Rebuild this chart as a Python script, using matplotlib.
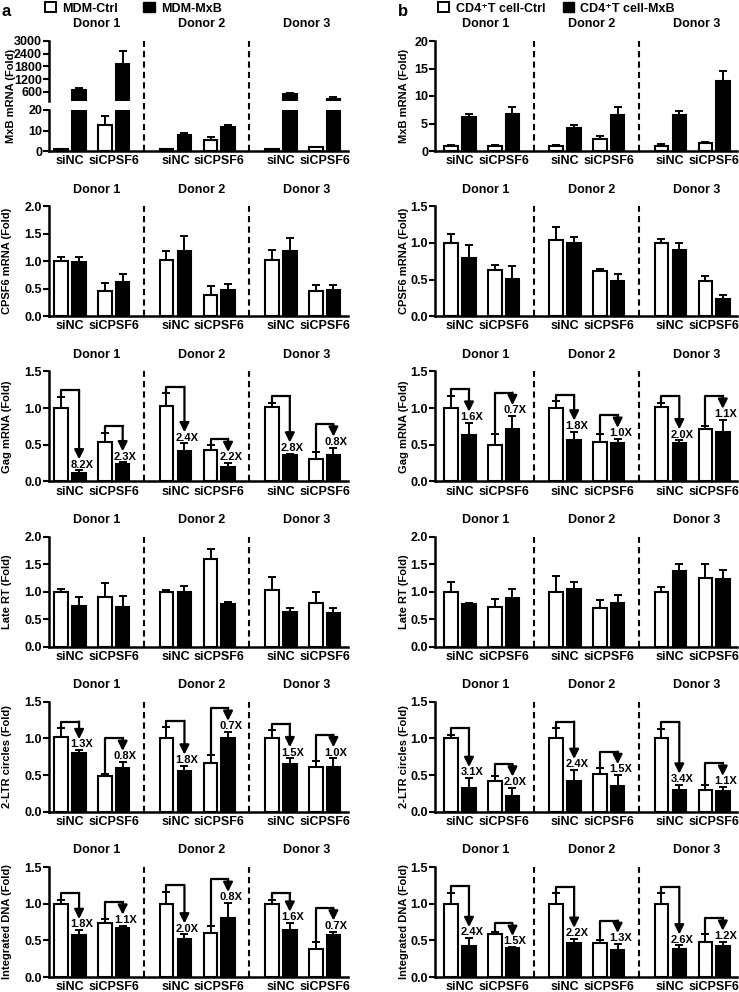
import matplotlib.pyplot as plt
from matplotlib.patches import Patch
import numpy as np

plt.rcParams['font.family'] = ['Liberation Sans', 'DejaVu Sans']
plt.rcParams['font.weight'] = 'bold'
plt.rcParams['axes.labelweight'] = 'bold'

donors = ['Donor 1', 'Donor 2', 'Donor 3']
groups = ['siNC', 'siCPSF6']

# order inside each donor: Ctrl-siNC, MxB-siNC, Ctrl-siCPSF6, MxB-siCPSF6
# panel a: MDM
a_mxb = [1.0, 690, 12.5, 1900, 1.0, 8.0, 5.5, 11.5, 1.0, 480, 1.8, 280]
a_mxb_err = [0.2, 90, 4.5, 620, 0.2, 0.7, 1.2, 1.2, 0.1, 50, 0.3, 80]
a_cpsf6 = [1.0, 0.98, 0.45, 0.63, 1.02, 1.18, 0.38, 0.47, 1.02, 1.18, 0.46, 0.48]
a_cpsf6_err = [0.08, 0.1, 0.15, 0.14, 0.16, 0.27, 0.17, 0.12, 0.18, 0.24, 0.1, 0.08]
a_gag = [1.0, 0.12, 0.54, 0.24, 1.03, 0.42, 0.43, 0.19, 1.02, 0.36, 0.3, 0.36]
a_gag_err = [0.15, 0.03, 0.12, 0.02, 0.17, 0.1, 0.06, 0.06, 0.05, 0.02, 0.1, 0.1]
a_gag_fold = ['8.2X', '2.3X', '2.4X', '2.2X', '2.8X', '0.8X']
a_rt = [1.0, 0.74, 0.91, 0.72, 1.0, 0.99, 1.6, 0.77, 1.03, 0.62, 0.8, 0.61]
a_rt_err = [0.04, 0.17, 0.24, 0.2, 0.03, 0.11, 0.17, 0.04, 0.24, 0.08, 0.19, 0.09]
a_ltr = [1.02, 0.8, 0.49, 0.6, 1.01, 0.56, 0.66, 1.0, 1.01, 0.65, 0.61, 0.61]
a_ltr_err = [0.12, 0.04, 0.02, 0.08, 0.14, 0.07, 0.12, 0.09, 0.1, 0.08, 0.08, 0.12]
a_ltr_fold = ['1.3X', '0.8X', '1.8X', '0.7X', '1.5X', '1.0X']
a_int = [1.0, 0.57, 0.73, 0.67, 1.0, 0.52, 0.6, 0.81, 1.0, 0.64, 0.38, 0.57]
a_int_err = [0.05, 0.07, 0.06, 0.03, 0.16, 0.06, 0.1, 0.2, 0.05, 0.1, 0.1, 0.05]
a_int_fold = ['1.8X', '1.1X', '2.0X', '0.8X', '1.6X', '0.7X']

# panel b: CD4+ T cells
b_mxb = [1.0, 6.1, 1.0, 6.8, 1.0, 4.1, 2.1, 6.6, 1.0, 6.6, 1.4, 12.7]
b_mxb_err = [0.15, 0.6, 0.05, 1.2, 0.15, 0.7, 0.7, 1.4, 0.2, 0.6, 0.25, 1.8]
b_cpsf6 = [1.0, 0.8, 0.63, 0.51, 1.04, 1.0, 0.62, 0.48, 1.0, 0.9, 0.48, 0.24]
b_cpsf6_err = [0.12, 0.17, 0.07, 0.17, 0.18, 0.08, 0.03, 0.09, 0.05, 0.1, 0.07, 0.05]
b_gag = [1.0, 0.63, 0.5, 0.72, 1.0, 0.57, 0.54, 0.52, 1.01, 0.52, 0.72, 0.67]
b_gag_err = [0.17, 0.17, 0.14, 0.17, 0.09, 0.11, 0.1, 0.06, 0.06, 0.04, 0.04, 0.17]
b_gag_fold = ['1.6X', '0.7X', '1.8X', '1.0X', '2.0X', '1.1X']
b_rt = [1.0, 0.78, 0.72, 0.89, 1.0, 1.05, 0.7, 0.79, 1.0, 1.37, 1.25, 1.23]
b_rt_err = [0.17, 0.02, 0.15, 0.15, 0.28, 0.12, 0.14, 0.14, 0.08, 0.14, 0.25, 0.17]
b_ltr = [1.0, 0.33, 0.42, 0.22, 1.0, 0.42, 0.51, 0.35, 1.0, 0.3, 0.3, 0.29]
b_ltr_err = [0.05, 0.13, 0.07, 0.11, 0.14, 0.15, 0.09, 0.15, 0.13, 0.07, 0.06, 0.05]
b_ltr_fold = ['3.1X', '2.0X', '2.4X', '1.5X', '3.4X', '1.1X']
b_int = [1.0, 0.42, 0.58, 0.4, 1.0, 0.46, 0.47, 0.37, 1.0, 0.38, 0.48, 0.42]
b_int_err = [0.15, 0.11, 0.04, 0.01, 0.14, 0.06, 0.03, 0.08, 0.14, 0.05, 0.1, 0.06]
b_int_fold = ['2.4X', '1.5X', '2.2X', '1.3X', '2.6X', '1.2X']

W, H = 739, 992
fig = plt.figure(figsize=(W / 100, H / 100), dpi=100)


def rect(left, top, width, height):
    return [left / W, 1 - (top + height) / H, width / W, height / H]


def bar_x(off):
    x = []
    for d in range(3):
        base = off + d * 5.85
        x += [base, base + 1, base + 2.45, base + 3.42]
    return np.array(x)


def style(ax, xmax, bottom=True):
    ax.spines['top'].set_visible(False)
    ax.spines['right'].set_visible(False)
    ax.spines['left'].set_linewidth(1.8)
    ax.spines['bottom'].set_linewidth(1.8)
    if not bottom:
        ax.spines['bottom'].set_visible(False)
    ax.set_xlim(0, xmax)
    ax.tick_params(axis='y', length=4, width=1.5, labelsize=9, pad=1)
    ax.tick_params(axis='x', length=0, labelsize=9, pad=3)


def bars(ax, x, vals, errs):
    colors = ['white', 'black'] * 6
    ax.bar(x, vals, width=0.75, color=colors, edgecolor='black', linewidth=1.5, zorder=2)
    ax.errorbar(x, vals, yerr=[np.zeros(12), errs], fmt='none', ecolor='black',
                elinewidth=1.4, capsize=3, capthick=1.4, zorder=3)


def xlabels(ax, off):
    ticks = []
    for d in range(3):
        base = off + d * 5.85
        ticks += [base + 0.5, base + 2.93]
    ax.set_xticks(ticks)
    ax.set_xticklabels(groups * 3)


def dividers(ax, off, ymax=1.0):
    for d in range(2):
        ax.axvline(off + d * 5.85 + 4.6, ymin=0, ymax=ymax, color='black', lw=1.5,
                   ls=(0, (3, 2)), clip_on=False, zorder=1)


def titles(ax, off):
    for d in range(3):
        ax.annotate(donors[d], xy=(off + d * 5.85 + 1.95, 1), xycoords=('data', 'axes fraction'),
                    xytext=(0, 12), textcoords='offset points', ha='center', va='center',
                    fontsize=9)


def arrows(ax, x, vals, errs, folds):
    for k in range(6):
        i, j = 2 * k, 2 * k + 1
        ctop = vals[i] + errs[i]
        mtop = vals[j] + errs[j]
        ly = mtop + 0.01
        tip = ly + 0.14
        yb = max(ctop + 0.09, tip + 0.17)
        ax.plot([x[i], x[i], x[j]], [ctop, yb, yb], color='black', lw=1.6,
                solid_capstyle='projecting', zorder=4)
        ax.annotate('', xy=(x[j], tip), xytext=(x[j], yb),
                    arrowprops=dict(arrowstyle='-|>', color='black', lw=1.6,
                                    mutation_scale=14, shrinkA=0, shrinkB=0), zorder=4)
        ax.text(x[j] + 0.15, ly, folds[k], ha='center', va='bottom', fontsize=8, zorder=5)


def row(left, width, off, xmax, i, vals, errs, ymax, step, ylabel, lab_x, folds=None):
    top = 41 + 165.2 * i
    ax = fig.add_axes(rect(left, top, width, 110))
    style(ax, xmax)
    x = bar_x(off)
    bars(ax, x, vals, errs)
    ax.set_ylim(0, ymax)
    ax.set_yticks(np.arange(0, ymax + step / 2, step))
    if step < 1:
        ax.set_yticklabels(['%.1f' % t for t in np.arange(0, ymax + step / 2, step)])
    ax.set_ylabel(ylabel, fontsize=8)
    ax.yaxis.set_label_coords(lab_x, 0.5)
    xlabels(ax, off)
    dividers(ax, off)
    titles(ax, off)
    if folds:
        arrows(ax, x, vals, errs, folds)
    return ax


# ---------- panel a ----------
aL, aW, aoff, axmax = 49, 299, 0.67, 16.6
xa = bar_x(aoff)
# broken axis for MxB mRNA
up = fig.add_axes(rect(aL, 41, aW, 60))
style(up, axmax, bottom=False)
bars(up, xa, a_mxb, a_mxb_err)
up.set_ylim(170, 3000)
up.set_yticks([600, 1200, 1800, 2400, 3000])
up.set_xticks([])
titles(up, aoff)
lo = fig.add_axes(rect(aL, 110, aW, 41))
style(lo, axmax)
bars(lo, xa, a_mxb, a_mxb_err)
lo.set_ylim(0, 20)
lo.set_yticks([0, 10, 20])
xlabels(lo, aoff)
dividers(lo, aoff, ymax=110 / 41)
fig.text(11 / W, 1 - 96 / H, 'MxB mRNA (Fold)', rotation=90, ha='center', va='center', fontsize=8)

lab_a = -37 / aW
row(aL, aW, aoff, axmax, 1, a_cpsf6, a_cpsf6_err, 2.0, 0.5, 'CPSF6 mRNA (Fold)', lab_a)
row(aL, aW, aoff, axmax, 2, a_gag, a_gag_err, 1.5, 0.5, 'Gag mRNA (Fold)', lab_a, a_gag_fold)
row(aL, aW, aoff, axmax, 3, a_rt, a_rt_err, 2.0, 0.5, 'Late RT (Fold)', lab_a)
row(aL, aW, aoff, axmax, 4, a_ltr, a_ltr_err, 1.5, 0.5, '2-LTR circles (Fold)', lab_a, a_ltr_fold)
row(aL, aW, aoff, axmax, 5, a_int, a_int_err, 1.5, 0.5, 'Integrated DNA (Fold)', lab_a, a_int_fold)

# ---------- panel b ----------
bL, bW, boff, bxmax = 435, 302, 0.89, 16.8
lab_b = -26 / bW
row(bL, bW, boff, bxmax, 0, b_mxb, b_mxb_err, 20, 5, 'MxB mRNA (Fold)', lab_b)
row(bL, bW, boff, bxmax, 1, b_cpsf6, b_cpsf6_err, 1.5, 0.5, 'CPSF6 mRNA (Fold)', lab_b)
row(bL, bW, boff, bxmax, 2, b_gag, b_gag_err, 1.5, 0.5, 'Gag mRNA (Fold)', lab_b, b_gag_fold)
row(bL, bW, boff, bxmax, 3, b_rt, b_rt_err, 2.0, 0.5, 'Late RT (Fold)', lab_b)
row(bL, bW, boff, bxmax, 4, b_ltr, b_ltr_err, 1.5, 0.5, '2-LTR circles (Fold)', lab_b, b_ltr_fold)
row(bL, bW, boff, bxmax, 5, b_int, b_int_err, 1.5, 0.5, 'Integrated DNA (Fold)', lab_b, b_int_fold)

# legends and panel letters
h = [Patch(facecolor='white', edgecolor='black', lw=1.4), Patch(facecolor='black', edgecolor='black')]
fig.legend(h, ['MDM-Ctrl', 'MDM-MxB'], ncol=2, frameon=False, loc='upper left',
           bbox_to_anchor=(40 / W, 1.003), fontsize=9, handlelength=0.9, handleheight=0.9,
           handletextpad=0.5, columnspacing=2.0, borderaxespad=0)
fig.legend(h, ['CD4\u207aT cell-Ctrl', 'CD4\u207aT cell-MxB'], ncol=2, frameon=False,
           loc='upper left', bbox_to_anchor=(433 / W, 1.003), fontsize=9, handlelength=0.9,
           handleheight=0.9, handletextpad=0.5, columnspacing=1.4, borderaxespad=0)
fig.text(2 / W, 1 - 12 / H, 'a', fontsize=12, va='center')
fig.text(398 / W, 1 - 12 / H, 'b', fontsize=12, va='center')

fig.savefig('out.png', dpi=100)
